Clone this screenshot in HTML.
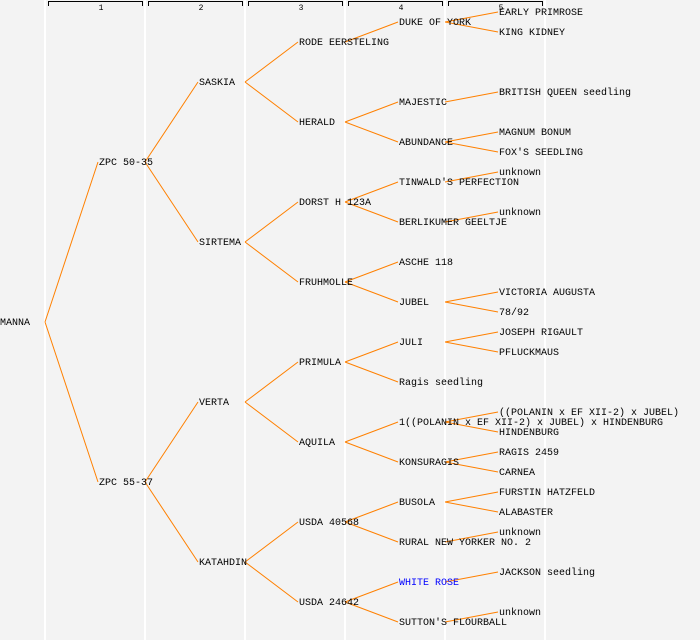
<!DOCTYPE html>
<html><head><meta charset="utf-8"><style>
html,body{margin:0;padding:0;background:#f3f3f3;}
svg{display:block;}
text{font-family:"Liberation Mono",monospace;font-size:10px;fill:#000;}
</style></head><body>
<svg width="700" height="640" xmlns="http://www.w3.org/2000/svg">
<rect width="700" height="640" fill="#f3f3f3"/>
<g stroke="#ffffff" stroke-width="2">
<line x1="45" y1="0" x2="45" y2="640"/><line x1="145" y1="0" x2="145" y2="640"/><line x1="245" y1="0" x2="245" y2="640"/><line x1="345" y1="0" x2="345" y2="640"/><line x1="445" y1="0" x2="445" y2="640"/><line x1="545" y1="0" x2="545" y2="640"/>
</g>
<g stroke="#000" stroke-width="1" fill="none">
<path d="M48.5 6V1.5H142.5V6"/><path d="M148.5 6V1.5H242.5V6"/><path d="M248.5 6V1.5H342.5V6"/><path d="M348.5 6V1.5H442.5V6"/><path d="M448.5 6V1.5H542.5V6"/>
</g>
<g text-anchor="middle">
<text x="101" y="10" style="font-size:8px">1</text><text x="201" y="10" style="font-size:8px">2</text><text x="301" y="10" style="font-size:8px">3</text><text x="401" y="10" style="font-size:8px">4</text><text x="501" y="10" style="font-size:8px">5</text>
</g>
<g stroke="#ff8000" stroke-width="1" fill="none">
<path d="M45 322L98 162M45 322L98 482"/>
<path d="M145 162L198 82M145 162L198 242M145 482L198 402M145 482L198 562"/>
<path d="M245 82L298 42M245 82L298 122M245 242L298 202M245 242L298 282M245 402L298 362M245 402L298 442M245 562L298 522M245 562L298 602"/>
<path d="M345 42L398 22M345 122L398 102M345 122L398 142M345 202L398 182M345 202L398 222M345 282L398 262M345 282L398 302M345 362L398 342M345 362L398 382M345 442L398 422M345 442L398 462M345 522L398 502M345 522L398 542M345 602L398 582M345 602L398 622"/>
<path d="M445 22L498 12M445 22L498 32M445 102L498 92M445 142L498 132M445 142L498 152M445 182L498 172M445 222L498 212M445 302L498 292M445 302L498 312M445 342L498 332M445 342L498 352M445 422L498 412M445 422L498 432M445 462L498 452M445 462L498 472M445 502L498 492M445 502L498 512M445 542L498 532M445 582L498 572M445 622L498 612"/>
</g>
<g transform="translate(0,-1)">
<text x="0" y="326">MANNA</text>
<text x="99" y="166">ZPC 50-35</text><text x="99" y="486">ZPC 55-37</text>
<text x="199" y="86">SASKIA</text><text x="199" y="246">SIRTEMA</text><text x="199" y="406">VERTA</text><text x="199" y="566">KATAHDIN</text>
<text x="299" y="46">RODE EERSTELING</text><text x="299" y="126">HERALD</text><text x="299" y="206">DORST H 123A</text><text x="299" y="286">FRUHMOLLE</text><text x="299" y="366">PRIMULA</text><text x="299" y="446">AQUILA</text><text x="299" y="526">USDA 40568</text><text x="299" y="606">USDA 24642</text>
<text x="399" y="26">DUKE OF YORK</text><text x="399" y="106">MAJESTIC</text><text x="399" y="146">ABUNDANCE</text><text x="399" y="186">TINWALD'S PERFECTION</text><text x="399" y="226">BERLIKUMER GEELTJE</text><text x="399" y="266">ASCHE 118</text><text x="399" y="306">JUBEL</text><text x="399" y="346">JULI</text><text x="399" y="386">Ragis seedling</text><text x="399" y="426">1((POLANIN x EF XII-2) x JUBEL) x HINDENBURG</text><text x="399" y="466">KONSURAGIS</text><text x="399" y="506">BUSOLA</text><text x="399" y="546">RURAL NEW YORKER NO. 2</text><text x="399" y="586" style="fill:#0000ff">WHITE ROSE</text><text x="399" y="626">SUTTON'S FLOURBALL</text>
<text x="499" y="16">EARLY PRIMROSE</text><text x="499" y="36">KING KIDNEY</text><text x="499" y="96">BRITISH QUEEN seedling</text><text x="499" y="136">MAGNUM BONUM</text><text x="499" y="156">FOX'S SEEDLING</text><text x="499" y="176">unknown</text><text x="499" y="216">unknown</text><text x="499" y="296">VICTORIA AUGUSTA</text><text x="499" y="316">78/92</text><text x="499" y="336">JOSEPH RIGAULT</text><text x="499" y="356">PFLUCKMAUS</text><text x="499" y="416">((POLANIN x EF XII-2) x JUBEL)</text><text x="499" y="436">HINDENBURG</text><text x="499" y="456">RAGIS 2459</text><text x="499" y="476">CARNEA</text><text x="499" y="496">FURSTIN HATZFELD</text><text x="499" y="516">ALABASTER</text><text x="499" y="536">unknown</text><text x="499" y="576">JACKSON seedling</text><text x="499" y="616">unknown</text>
</g>
</svg>
</body></html>
